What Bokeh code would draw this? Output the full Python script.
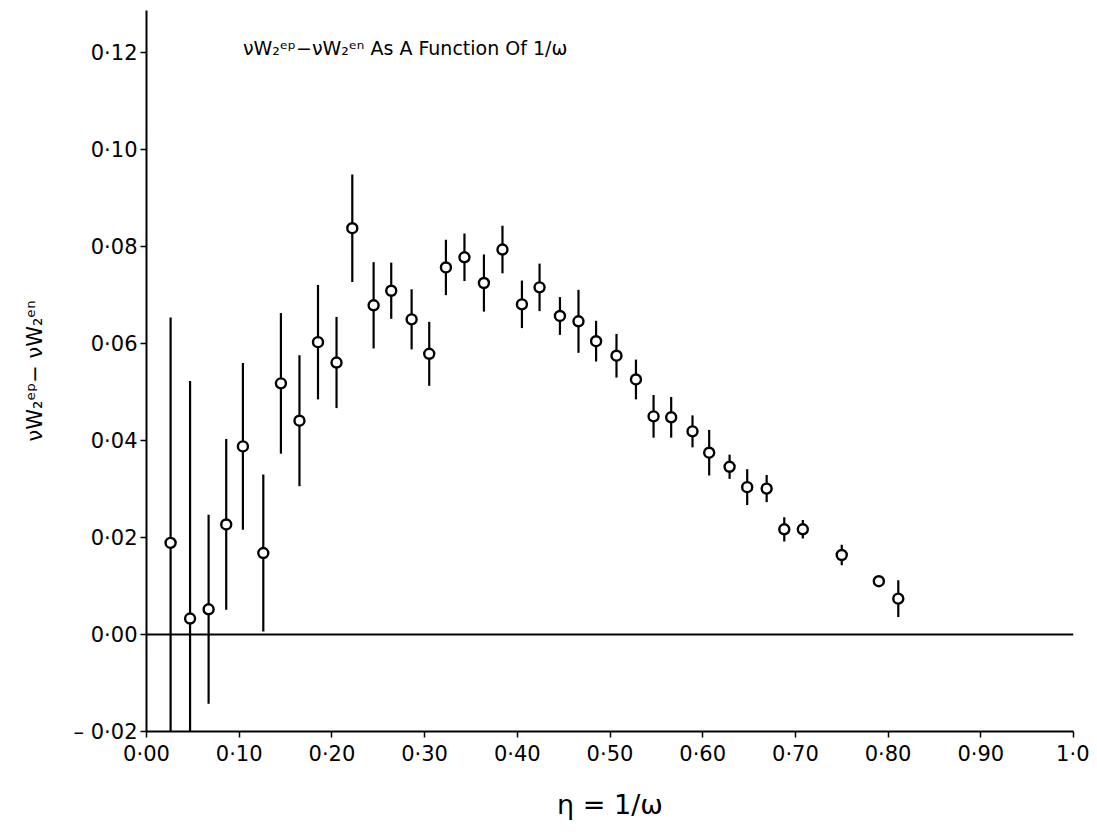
from bokeh.plotting import figure
from bokeh.models import Span, Label, FixedTicker, CustomJSTickFormatter, ColumnDataSource, Range1d
from bokeh.embed import file_html
from bokeh.resources import INLINE

# eta = 1/omega
eta = [0.026, 0.047, 0.067, 0.086, 0.104, 0.126, 0.145, 0.165, 0.185, 0.205,
       0.222, 0.245, 0.264, 0.286, 0.305, 0.323, 0.343, 0.364, 0.384, 0.405,
       0.424, 0.446, 0.466, 0.485, 0.507, 0.528, 0.547, 0.566, 0.589, 0.607,
       0.629, 0.648, 0.669, 0.688, 0.708, 0.750, 0.790, 0.811]

# nu W2(ep) - nu W2(en)
diff = [0.0189, 0.0033, 0.0052, 0.0227, 0.0388, 0.0168, 0.0518, 0.0441, 0.0603, 0.0561,
        0.0838, 0.0679, 0.0709, 0.0650, 0.0579, 0.0757, 0.0778, 0.0725, 0.0794, 0.0681,
        0.0716, 0.0657, 0.0646, 0.0605, 0.0575, 0.0526, 0.0450, 0.0448, 0.0419, 0.0375,
        0.0346, 0.0304, 0.0301, 0.0217, 0.0217, 0.0164, 0.0110, 0.0074]

# symmetric error
err = [0.0465, 0.0490, 0.0195, 0.0176, 0.0172, 0.0162, 0.0145, 0.0135, 0.0118, 0.0094,
       0.0111, 0.0089, 0.0058, 0.0062, 0.0066, 0.0057, 0.0049, 0.0059, 0.0049, 0.0049,
       0.0049, 0.0039, 0.0065, 0.0042, 0.0045, 0.0041, 0.0044, 0.0042, 0.0033, 0.0047,
       0.0025, 0.0037, 0.0028, 0.0025, 0.0019, 0.0021, 0.0000, 0.0038]

x_ticks = [0.0, 0.1, 0.2, 0.3, 0.4, 0.5, 0.6, 0.7, 0.8, 0.9, 1.0]
y_ticks = [-0.02, 0.0, 0.02, 0.04, 0.06, 0.08, 0.10, 0.12]

title_text = "νW₂ᵉᵖ−νW₂ᵉⁿ  As  A   Function  Of   1/ω"
y_label = "νW₂ᵉᵖ− νW₂ᵉⁿ"
x_label = "η = 1/ω"

FONT = "DejaVu Sans"

lo = [d - e for d, e in zip(diff, err)]
hi = [d + e for d, e in zip(diff, err)]
source = ColumnDataSource(dict(eta=eta, diff=diff, lo=lo, hi=hi))

p = figure(width=1089, height=830, output_backend="svg", toolbar_location=None,
           x_range=Range1d(0.0, 1.0), y_range=Range1d(-0.02, 0.1287),
           min_border_left=146, min_border_right=16, min_border_top=10, min_border_bottom=99)

p.grid.visible = False
p.outline_line_color = None
p.background_fill_color = "white"
p.border_fill_color = "white"

p.add_layout(Span(location=0.0, dimension="width", line_color="black", line_width=2))

p.segment(x0="eta", y0="lo", x1="eta", y1="hi", source=source,
          line_color="black", line_width=2.2)
p.scatter(x="eta", y="diff", source=source, marker="circle", size=10,
          fill_color="white", line_color="black", line_width=2.4)

fmt = CustomJSTickFormatter(code="""
if (Math.abs(tick - 1) < 1e-9) return "1\u00b70";
const s = Math.abs(tick).toFixed(2).replace(".", "\u00b7");
return tick < -1e-9 ? "\u2013 " + s : s;
""")

for ax, ticks in ((p.xaxis, x_ticks), (p.yaxis, y_ticks)):
    ax.ticker = FixedTicker(ticks=ticks)
    ax.formatter = fmt
    ax.minor_tick_line_color = None
    ax.major_tick_in = 0
    ax.major_tick_out = 6
    ax.major_tick_line_width = 1.5
    ax.major_tick_line_color = "black"
    ax.axis_line_width = 2
    ax.axis_line_color = "black"
    ax.major_label_text_font = FONT
    ax.major_label_text_font_size = "21px"
    ax.major_label_text_color = "black"
    ax.axis_label_text_font = FONT
    ax.axis_label_text_font_style = "normal"
    ax.axis_label_text_color = "black"

p.xaxis.major_label_standoff = 4
p.yaxis.major_label_standoff = 3
p.xaxis.axis_label = x_label
p.xaxis.axis_label_text_font_size = "27px"
p.xaxis.axis_label_standoff = 20
p.yaxis.axis_label = y_label
p.yaxis.axis_label_text_font_size = "21px"
p.yaxis.axis_label_standoff = 24

p.add_layout(Label(x=0.104, y=0.121, text=title_text, text_font=FONT,
                   text_font_size="19px", text_baseline="middle", text_align="left",
                   text_color="black"))

open("out.html", "w").write(file_html(p, INLINE))
